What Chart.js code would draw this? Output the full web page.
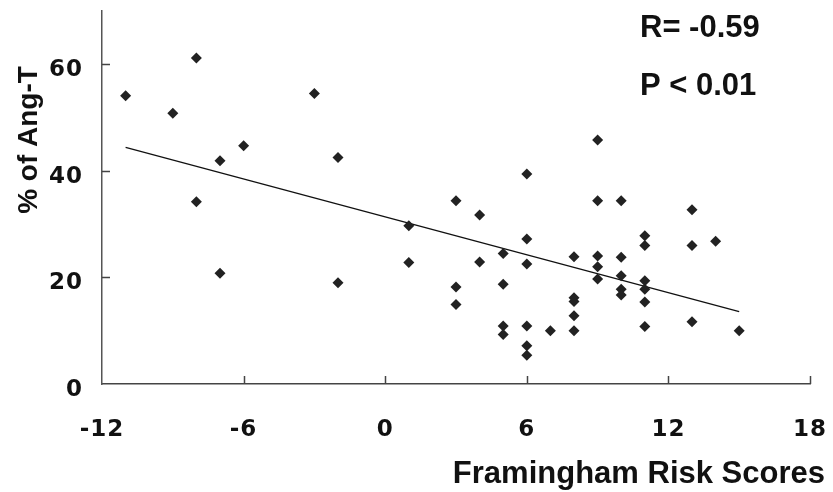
<!DOCTYPE html>
<html>
<head>
<meta charset="utf-8">
<script src="https://cdn.jsdelivr.net/npm/chart.js@4.4.1/dist/chart.umd.min.js"></script>
<style>
  body { margin: 0; background: #fff; }
  #wrap { width: 833px; height: 492px; }
</style>
</head>
<body>
<div id="wrap"><canvas id="scatterChart" width="833" height="492"></canvas></div>
<script>
// Data
var riskScores = [-11, -9, -8, -8, -7, -7, -6, -3, -2, -2, 1, 1, 3, 3, 3, 4, 4, 5, 5, 5, 5,
    6, 6, 6, 6, 6, 6, 7, 8, 8, 8, 8, 8, 9, 9, 9, 9, 9, 10, 10, 10, 10, 10,
    11, 11, 11, 11, 11, 11, 13, 13, 13, 14, 15];
var angTPercent = [54.1, 50.8, 61.2, 34.2, 41.9, 20.8, 44.7, 54.5, 42.5, 19.0, 29.7, 22.8,
    34.4, 18.2, 14.9, 31.7, 22.9, 24.5, 18.7, 10.9, 9.3,
    39.4, 27.2, 22.5, 10.9, 7.2, 5.4, 10.0, 23.9, 16.2, 15.5, 12.8, 10.0,
    45.8, 34.4, 24.0, 22.0, 19.7, 34.4, 23.8, 20.3, 17.8, 16.7,
    27.8, 26.0, 19.4, 17.8, 15.4, 10.8, 32.7, 26.0, 11.7, 26.8, 10.0];
var trendX = [-11, 15];
var trendY = [44.4, 13.6];
var xTicks = [-12, -6, 0, 6, 12, 18];
var yTicks = [0, 20, 40, 60];
var statLines = ['R= -0.59', 'P < 0.01'];
var xTitle = 'Framingham Risk Scores';
var yTitle = '% of Ang-T';

var points = riskScores.map(function(x, i) { return { x: x, y: angTPercent[i] }; });
var trend = trendX.map(function(x, i) { return { x: x, y: trendY[i] }; });

// Plugin: tick ke dalam + teks tambahan
var extras = {
    id: 'extras',
    beforeDraw: function(chart) {
        chart.ctx.letterSpacing = '1px';
    },
    beforeDatasetsDraw: function(chart) {
        var ctx = chart.ctx, xs = chart.scales.x, ys = chart.scales.y;
        var area = chart.chartArea;
        ctx.save();
        ctx.strokeStyle = '#444';
        ctx.lineWidth = 1.5;
        ctx.beginPath();
        yTicks.forEach(function(v) {
            if (v === 0) return;
            var py = Math.round(ys.getPixelForValue(v)) + 0.5;
            ctx.moveTo(area.left, py);
            ctx.lineTo(area.left + 8, py);
        });
        xTicks.forEach(function(v) {
            if (v === xTicks[0]) return;
            var px = Math.round(xs.getPixelForValue(v)) + 0.5;
            ctx.moveTo(px, area.bottom);
            ctx.lineTo(px, area.bottom - 8);
        });
        ctx.stroke();
        ctx.restore();
    },
    afterDraw: function(chart) {
        var ctx = chart.ctx;
        ctx.save();
        ctx.letterSpacing = '0px';
        ctx.fillStyle = '#111';
        ctx.font = 'bold 31px "Liberation Sans", Arial, sans-serif';
        ctx.textAlign = 'left';
        ctx.textBaseline = 'alphabetic';
        ctx.fillText(statLines[0], 640, 37);
        ctx.fillText(statLines[1], 640, 95);

        ctx.font = 'bold 31px "Liberation Sans", Arial, sans-serif';
        ctx.textAlign = 'right';
        ctx.fillText(xTitle, 825, 483);

        ctx.font = 'bold 28px "Liberation Sans", Arial, sans-serif';
        ctx.translate(37, 140);
        ctx.rotate(-Math.PI / 2);
        ctx.textAlign = 'center';
        ctx.fillText(yTitle, 0, 0);
        ctx.restore();
    }
};

var tickFont = { family: 'DejaVu Sans', size: 23, weight: 'bold' };

new Chart(document.getElementById('scatterChart').getContext('2d'), {
    type: 'scatter',
    data: {
        datasets: [
            {
                label: 'Data',
                data: points,
                pointStyle: 'rectRot',
                pointRadius: 5.5,
                pointHoverRadius: 5.5,
                backgroundColor: '#222',
                borderColor: '#222',
                borderWidth: 0
            },
            {
                type: 'line',
                label: 'Trend',
                data: trend,
                borderColor: '#111',
                borderWidth: 1.3,
                pointRadius: 0,
                fill: false
            }
        ]
    },
    options: {
        responsive: false,
        animation: false,
        layout: { padding: { top: 11, right: 23, left: 0, bottom: 0 } },
        scales: {
            x: {
                type: 'linear',
                min: -12,
                max: 18,
                afterBuildTicks: function(scale) {
                    scale.ticks = xTicks.map(function(v) { return { value: v }; });
                },
                afterFit: function(scale) {
                    scale.height = 108;
                    scale.paddingLeft = 0;
                    scale.paddingRight = 0;
                },
                grid: { display: false },
                border: { display: true, color: '#444', width: 1.5 },
                ticks: { font: tickFont, color: '#111', padding: 24, maxRotation: 0 }
            },
            y: {
                min: 0,
                max: 70,
                afterBuildTicks: function(scale) {
                    scale.ticks = yTicks.map(function(v) { return { value: v }; });
                },
                afterFit: function(scale) {
                    scale.width = 102;
                    scale.paddingTop = 0;
                    scale.paddingBottom = 0;
                },
                grid: { display: false },
                border: { display: true, color: '#555', width: 1.5 },
                ticks: { font: tickFont, color: '#111', padding: 11, labelOffset: 6 }
            }
        },
        plugins: {
            legend: { display: false },
            tooltip: { enabled: false }
        }
    },
    plugins: [extras]
});
</script>
</body>
</html>
